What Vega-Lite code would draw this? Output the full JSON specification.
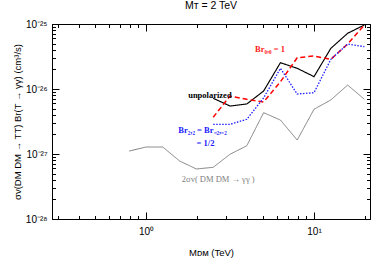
{
  "$schema": "https://vega.github.io/schema/vega-lite/v6.json",
  "width": 318,
  "height": 195,
  "autosize": "none",
  "padding": {"left": 52, "top": 24, "right": 4, "bottom": 41},
  "background": "white",
  "title": {"text": "Mᴛ = 2 TeV", "font": "Liberation Sans", "fontSize": 10.5, "fontWeight": "normal", "color": "black", "offset": 8, "anchor": "middle"},
  "config": {
    "view": {"stroke": "black", "strokeWidth": 1},
    "axis": {"grid": false, "domainColor": "black", "tickColor": "black", "labelColor": "black", "titleColor": "black", "labelFont": "Liberation Sans", "titleFont": "Liberation Sans", "labelFontSize": 10, "titleFontSize": 9.5, "titleFontWeight": "normal", "labelOverlap": false, "labelFlush": false}
  },
  "datasets": {
    "curves": [
      {"m": 2.512, "sv": 7.2e-27, "s": "unpolarized"},
      {"m": 3.162, "sv": 5.47e-27, "s": "unpolarized"},
      {"m": 3.981, "sv": 5.88e-27, "s": "unpolarized"},
      {"m": 5.012, "sv": 9.3e-27, "s": "unpolarized"},
      {"m": 6.31, "sv": 2.54e-26, "s": "unpolarized"},
      {"m": 7.943, "sv": 2.08e-26, "s": "unpolarized"},
      {"m": 10.0, "sv": 1.55e-26, "s": "unpolarized"},
      {"m": 12.59, "sv": 4.22e-26, "s": "unpolarized"},
      {"m": 15.85, "sv": 7.19e-26, "s": "unpolarized"},
      {"m": 19.95, "sv": 9.66e-26, "s": "unpolarized"},
      {"m": 2.512, "sv": 3.67e-27, "s": "Br00"},
      {"m": 3.162, "sv": 7.8e-27, "s": "Br00"},
      {"m": 3.981, "sv": 6.95e-27, "s": "Br00"},
      {"m": 5.012, "sv": 6.31e-27, "s": "Br00"},
      {"m": 6.31, "sv": 1.29e-26, "s": "Br00"},
      {"m": 7.943, "sv": 3.03e-26, "s": "Br00"},
      {"m": 10.0, "sv": 3.22e-26, "s": "Br00"},
      {"m": 12.59, "sv": 2.86e-26, "s": "Br00"},
      {"m": 15.85, "sv": 4.92e-26, "s": "Br00"},
      {"m": 19.95, "sv": 9.66e-26, "s": "Br00"},
      {"m": 2.512, "sv": 2.86e-27, "s": "Br22"},
      {"m": 3.162, "sv": 2.86e-27, "s": "Br22"},
      {"m": 3.981, "sv": 3.42e-27, "s": "Br22"},
      {"m": 5.012, "sv": 7.28e-27, "s": "Br22"},
      {"m": 6.31, "sv": 2.08e-26, "s": "Br22"},
      {"m": 7.943, "sv": 8.38e-27, "s": "Br22"},
      {"m": 10.0, "sv": 8.77e-27, "s": "Br22"},
      {"m": 12.59, "sv": 2.86e-26, "s": "Br22"},
      {"m": 15.85, "sv": 4.92e-26, "s": "Br22"},
      {"m": 19.95, "sv": 4.48e-26, "s": "Br22"},
      {"m": 0.794, "sv": 1.11e-27, "s": "gg"},
      {"m": 1.0, "sv": 1.28e-27, "s": "gg"},
      {"m": 1.259, "sv": 1.28e-27, "s": "gg"},
      {"m": 1.585, "sv": 7.8e-28, "s": "gg"},
      {"m": 1.995, "sv": 5.88e-28, "s": "gg"},
      {"m": 2.512, "sv": 6.24e-28, "s": "gg"},
      {"m": 3.162, "sv": 9.9e-28, "s": "gg"},
      {"m": 3.981, "sv": 1.34e-27, "s": "gg"},
      {"m": 5.012, "sv": 4.32e-27, "s": "gg"},
      {"m": 6.31, "sv": 3.33e-27, "s": "gg"},
      {"m": 7.943, "sv": 1.64e-27, "s": "gg"},
      {"m": 10.0, "sv": 4.88e-27, "s": "gg"},
      {"m": 12.59, "sv": 6.78e-27, "s": "gg"},
      {"m": 15.85, "sv": 1.15e-26, "s": "gg"},
      {"m": 19.95, "sv": 6.95e-27, "s": "gg"}
    ],
    "labels": [
      {"m": 2.4, "sv": 8.1e-27, "t": "unpolarized", "c": "black", "a": "right"},
      {"m": 5.47, "sv": 4.12e-26, "t": "Br₀,₀ = 1", "c": "#ff2020", "a": "left"},
      {"m": 2.17, "sv": 2.34e-27, "t": "Br₂,₂ = Br₋₂,₋₂", "c": "#2020ff", "a": "center"},
      {"m": 2.26, "sv": 1.46e-27, "t": "= 1/2", "c": "#2020ff", "a": "center"}
    ],
    "note": [
      {"m": 2.69, "sv": 4.07e-28, "t": "2σv( DM  DM  →  γγ )"}
    ]
  },
  "layer": [
    {
      "data": {"name": "curves"},
      "mark": {"type": "line", "clip": true},
      "encoding": {
        "x": {"field": "m", "type": "quantitative", "scale": {"type": "log", "domain": [0.2757, 21.54], "nice": false},
          "axis": {"orient": "bottom", "values": [0.3, 0.4, 0.5, 0.6, 0.7, 0.8, 0.9, 1, 2, 3, 4, 5, 6, 7, 8, 9, 10, 20],
            "labelExpr": "datum.value == 1 ? '10⁰' : datum.value == 10 ? '10¹' : ''",
            "tickSize": {"condition": {"test": "datum.value == 1 || datum.value == 10", "value": -7}, "value": -3.5},
            "labelPadding": 14, "title": "Mᴅᴍ  (TeV)", "titlePadding": 8}},
        "y": {"field": "sv", "type": "quantitative", "scale": {"type": "log", "domain": [1e-28, 1e-25], "nice": false},
          "axis": {"orient": "left", "values": [1e-28, 2e-28, 3e-28, 4e-28, 5e-28, 6e-28, 7e-28, 8e-28, 9e-28, 1e-27, 2e-27, 3e-27, 4e-27, 5e-27, 6e-27, 7e-27, 8e-27, 9e-27, 1e-26, 2e-26, 3e-26, 4e-26, 5e-26, 6e-26, 7e-26, 8e-26, 9e-26, 1e-25],
            "labelExpr": "datum.value == 1e-28 ? '10⁻²⁸' : datum.value == 1e-27 ? '10⁻²⁷' : datum.value == 1e-26 ? '10⁻²⁶' : datum.value == 1e-25 ? '10⁻²⁵' : ''",
            "tickSize": {"condition": {"test": "indexof([1e-28, 1e-27, 1e-26, 1e-25], datum.value) >= 0", "value": -7}, "value": -3.5},
            "labelPadding": 12, "title": "σv(DM DM → TT) Br(T → γγ) (cm³/s)", "titlePadding": 3}},
        "color": {"field": "s", "type": "nominal", "scale": {"domain": ["gg", "unpolarized", "Br22", "Br00"], "range": ["#808080", "black", "#2020ff", "#ff0000"]}, "legend": null},
        "strokeDash": {"field": "s", "type": "nominal", "scale": {"domain": ["gg", "unpolarized", "Br22", "Br00"], "range": [[1, 0], [1, 0], [1.5, 1.5], [5, 3]]}, "legend": null},
        "strokeWidth": {"field": "s", "type": "nominal", "scale": {"domain": ["gg", "unpolarized", "Br22", "Br00"], "range": [1, 1.5, 1.6, 1.6]}, "legend": null}
      }
    },
    {
      "data": {"name": "labels"},
      "mark": {"type": "text", "font": "Liberation Serif", "fontWeight": "bold", "fontSize": 8.5, "baseline": "middle"},
      "encoding": {
        "x": {"field": "m", "type": "quantitative", "scale": {"type": "log", "domain": [0.2757, 21.54], "nice": false},
          "axis": {"orient": "top", "values": [0.3, 0.4, 0.5, 0.6, 0.7, 0.8, 0.9, 1, 2, 3, 4, 5, 6, 7, 8, 9, 10, 20], "labels": false, "title": null,
            "tickSize": {"condition": {"test": "datum.value == 1 || datum.value == 10", "value": -7}, "value": -3.5}}},
        "y": {"field": "sv", "type": "quantitative", "scale": {"type": "log", "domain": [1e-28, 1e-25], "nice": false},
          "axis": {"orient": "right", "values": [1e-28, 2e-28, 3e-28, 4e-28, 5e-28, 6e-28, 7e-28, 8e-28, 9e-28, 1e-27, 2e-27, 3e-27, 4e-27, 5e-27, 6e-27, 7e-27, 8e-27, 9e-27, 1e-26, 2e-26, 3e-26, 4e-26, 5e-26, 6e-26, 7e-26, 8e-26, 9e-26, 1e-25], "labels": false, "title": null,
            "tickSize": {"condition": {"test": "indexof([1e-28, 1e-27, 1e-26, 1e-25], datum.value) >= 0", "value": -7}, "value": -3.5}}},
        "text": {"field": "t"},
        "color": {"field": "c", "type": "nominal", "scale": null},
        "align": {"field": "a", "type": "nominal", "scale": null}
      }
    },
    {
      "data": {"name": "note"},
      "mark": {"type": "text", "font": "Liberation Serif", "fontSize": 8.5, "color": "#808080", "baseline": "middle"},
      "encoding": {
        "x": {"field": "m", "type": "quantitative", "axis": null},
        "y": {"field": "sv", "type": "quantitative", "axis": null},
        "text": {"field": "t"}
      }
    }
  ],
  "resolve": {"axis": {"x": "independent", "y": "independent"}}
}
